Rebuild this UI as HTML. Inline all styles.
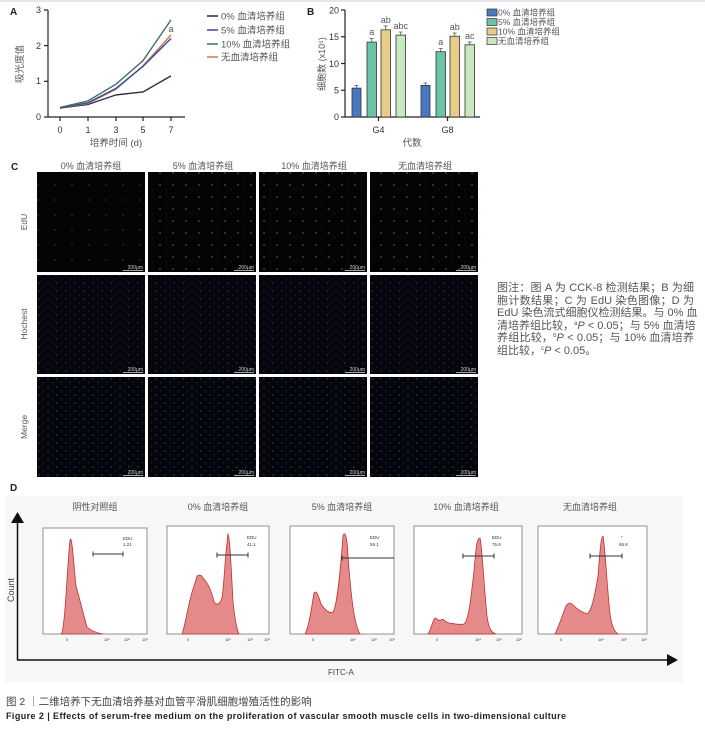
<!DOCTYPE html>
<html><head><meta charset="utf-8">
<style>
html,body{margin:0;padding:0;background:#fff;}
body{width:705px;height:729px;overflow:hidden;position:relative;font-family:"Liberation Sans","Noto Sans CJK SC",sans-serif;}
svg text{font-family:"Liberation Sans","Noto Sans CJK SC",sans-serif;}
.cap{position:absolute;left:497px;top:282px;width:197px;font-size:11px;color:#555;}
.cap div{height:12.6px;line-height:12.6px;text-align:justify;text-align-last:justify;white-space:nowrap;}
.cap sup{font-size:6px;line-height:0;vertical-align:4px;}
</style></head><body>
<svg width="705" height="729" viewBox="0 0 705 729" xmlns="http://www.w3.org/2000/svg" style="position:absolute;left:0;top:0">
<defs>
<pattern id="pg" width="17" height="15" patternUnits="userSpaceOnUse"><rect width="17" height="15" fill="#040405"/><circle cx="4" cy="5" r="0.6" fill="#3a6a50"/></pattern>
<pattern id="pg2" width="13" height="12" patternUnits="userSpaceOnUse"><rect width="13" height="12" fill="#040405"/><circle cx="4" cy="5" r="0.7" fill="#4a8a66"/><circle cx="10" cy="10" r="0.5" fill="#2a4a38"/></pattern>
<pattern id="pb" width="9" height="8" patternUnits="userSpaceOnUse"><rect width="9" height="8" fill="#05050c"/><circle cx="3" cy="3" r="0.7" fill="#34388a"/><circle cx="7.5" cy="6.5" r="0.5" fill="#262a68"/></pattern>
<pattern id="pm" width="9" height="8" patternUnits="userSpaceOnUse"><rect width="9" height="8" fill="#05050c"/><circle cx="3" cy="3" r="0.7" fill="#35428a"/><circle cx="7.5" cy="6.5" r="0.5" fill="#305a60"/></pattern>
</defs>
<line x1="0" y1="1" x2="705" y2="1" stroke="#ccc"/>
<!-- Panel A -->
<text x="10" y="15" font-size="10" font-weight="bold" fill="#222">A</text>
<g stroke="#222" stroke-width="1.2" fill="none">
<line x1="48" y1="10" x2="48" y2="117"/><line x1="48" y1="117" x2="185" y2="117"/>
<line x1="44" y1="117" x2="48" y2="117"/><line x1="44" y1="81.3" x2="48" y2="81.3"/><line x1="44" y1="45.6" x2="48" y2="45.6"/><line x1="44" y1="10" x2="48" y2="10"/>
<line x1="60" y1="117" x2="60" y2="121"/><line x1="88" y1="117" x2="88" y2="121"/><line x1="116" y1="117" x2="116" y2="121"/><line x1="143" y1="117" x2="143" y2="121"/><line x1="171" y1="117" x2="171" y2="121"/>
</g>
<g font-size="9" fill="#333" text-anchor="end"><text x="41" y="120">0</text><text x="41" y="84">1</text><text x="41" y="49">2</text><text x="41" y="13">3</text></g>
<g font-size="9" fill="#333" text-anchor="middle"><text x="60" y="133">0</text><text x="88" y="133">1</text><text x="116" y="133">3</text><text x="143" y="133">5</text><text x="171" y="133">7</text>
<text x="116" y="146" font-size="9.5" fill="#555">培养时间 (d)</text></g>
<text transform="translate(23,64) rotate(-90)" font-size="9.5" fill="#555" text-anchor="middle">吸光度值</text>
<g fill="none" stroke-width="1.4">
<polyline stroke="#2b2b40" points="60,108.1 88,104.5 116,94.9 143,92 171,75.9"/>
<polyline stroke="#c87a4a" points="60,108.1 88,103.4 116,89.2 143,66 171,34.9"/>
<polyline stroke="#3a4a9a" points="60,108.1 88,102.7 116,88.4 143,66.3 171,38.5"/>
<polyline stroke="#3f6f6a" points="60,107.4 88,100.9 116,84.2 143,60.6 171,19.9"/>
</g>
<text x="171" y="32" font-size="9" fill="#555" text-anchor="middle">a</text>
<g stroke-width="1.5"><line x1="207" y1="16" x2="218" y2="16" stroke="#2b2b40"/><line x1="207" y1="30" x2="218" y2="30" stroke="#3a4a9a"/><line x1="207" y1="44" x2="218" y2="44" stroke="#3f6f6a"/><line x1="207" y1="57" x2="218" y2="57" stroke="#c87a4a"/></g>
<g font-size="9.5" fill="#555"><text x="221" y="19.5">0% 血清培养组</text><text x="221" y="33.5">5% 血清培养组</text><text x="221" y="47.5">10% 血清培养组</text><text x="221" y="60.5">无血清培养组</text></g>
<!-- Panel B -->
<text x="307" y="15" font-size="10" font-weight="bold" fill="#222">B</text>
<g stroke="#222" stroke-width="1.2"><line x1="345" y1="10" x2="345" y2="117"/><line x1="345" y1="117" x2="480" y2="117"/>
<line x1="341" y1="117" x2="345" y2="117"/><line x1="341" y1="90.25" x2="345" y2="90.25"/><line x1="341" y1="63.5" x2="345" y2="63.5"/><line x1="341" y1="36.75" x2="345" y2="36.75"/><line x1="341" y1="10" x2="345" y2="10"/>
<line x1="378.5" y1="117" x2="378.5" y2="121"/><line x1="447.5" y1="117" x2="447.5" y2="121"/></g>
<g font-size="9" fill="#333" text-anchor="end"><text x="339" y="120">0</text><text x="339" y="93.5">5</text><text x="339" y="67">10</text><text x="339" y="40">15</text><text x="339" y="13.5">20</text></g>
<g font-size="9" fill="#333" text-anchor="middle"><text x="378.5" y="133">G4</text><text x="447.5" y="133">G8</text><text x="412" y="146" font-size="9.5" fill="#555">代数</text></g>
<text transform="translate(325,64) rotate(-90)" font-size="9" fill="#555" text-anchor="middle">细胞数 (x10⁵)</text>
<g stroke="#333" stroke-width="0.8">
<rect x="352" y="88.1" width="9" height="28.9" fill="#4a78c0"/>
<rect x="367" y="42.1" width="9.5" height="74.9" fill="#6cc4a8"/>
<rect x="381" y="29.8" width="9.5" height="87.2" fill="#e8cc8a"/>
<rect x="396" y="35.1" width="9.5" height="81.9" fill="#c8e8c0"/>
<rect x="421" y="85.4" width="9" height="31.6" fill="#4a78c0"/>
<rect x="436" y="51.7" width="9.5" height="65.3" fill="#6cc4a8"/>
<rect x="450" y="36.2" width="9.5" height="80.8" fill="#e8cc8a"/>
<rect x="465" y="44.8" width="9.5" height="72.2" fill="#c8e8c0"/>
</g>
<g stroke="#555" stroke-width="0.8"><path d="M356.5 88V85.5M354.5 85.5h4M371.7 42V38.5M369.7 38.5h4M385.7 29.8V26M383.7 26h4M400.7 35V32M398.7 32h4M425.5 85.4V83M423.5 83h4M440.7 51.7V48.5M438.7 48.5h4M454.7 36.2V33M452.7 33h4M469.7 44.8V42M467.7 42h4"/></g>
<g font-size="9" fill="#555" text-anchor="middle"><text x="371.7" y="35">a</text><text x="385.7" y="23">ab</text><text x="400.7" y="29">abc</text><text x="440.7" y="45">a</text><text x="454.7" y="30">ab</text><text x="469.7" y="39">ac</text></g>
<g stroke="#333" stroke-width="0.7"><rect x="487" y="9" width="10" height="7" fill="#4a78c0"/><rect x="487" y="18.5" width="10" height="7" fill="#6cc4a8"/><rect x="487" y="28" width="10" height="7" fill="#e8cc8a"/><rect x="487" y="37.5" width="10" height="7" fill="#c8e8c0"/></g>
<g font-size="8.5" fill="#555"><text x="498" y="15.5">0% 血清培养组</text><text x="498" y="25">5% 血清培养组</text><text x="498" y="34.5">10% 血清培养组</text><text x="498" y="44">无血清培养组</text></g>
<!-- Panel C -->
<text x="11" y="170" font-size="10" font-weight="bold" fill="#222">C</text>
<g font-size="9" fill="#555" text-anchor="middle"><text x="91" y="169">0% 血清培养组</text><text x="203" y="169">5% 血清培养组</text><text x="314" y="169">10% 血清培养组</text><text x="425" y="169">无血清培养组</text></g>
<g font-size="8.5" fill="#555" text-anchor="middle"><text transform="translate(27,222) rotate(-90)">EdU</text><text transform="translate(27,324) rotate(-90)">Hochest</text><text transform="translate(27,427) rotate(-90)">Merge</text></g>
<rect x="37" y="172" width="108" height="100" fill="url(#pg)"/><rect x="148" y="172" width="108" height="100" fill="url(#pg2)"/><rect x="259" y="172" width="108" height="100" fill="url(#pg2)"/><rect x="370" y="172" width="108" height="100" fill="url(#pg2)"/>
<rect x="37" y="275" width="108" height="99" fill="url(#pb)"/><rect x="148" y="275" width="108" height="99" fill="url(#pb)"/><rect x="259" y="275" width="108" height="99" fill="url(#pb)"/><rect x="370" y="275" width="108" height="99" fill="url(#pb)"/>
<rect x="37" y="377" width="108" height="100" fill="url(#pm)"/><rect x="148" y="377" width="108" height="100" fill="url(#pm)"/><rect x="259" y="377" width="108" height="100" fill="url(#pm)"/><rect x="370" y="377" width="108" height="100" fill="url(#pm)"/>
<g font-size="5" fill="#ccc" text-anchor="end">
<text x="143" y="269">200μm</text><text x="254" y="269">200μm</text><text x="365" y="269">200μm</text><text x="476" y="269">200μm</text>
<text x="143" y="371">200μm</text><text x="254" y="371">200μm</text><text x="365" y="371">200μm</text><text x="476" y="371">200μm</text>
<text x="143" y="474">200μm</text><text x="254" y="474">200μm</text><text x="365" y="474">200μm</text><text x="476" y="474">200μm</text></g>
<g stroke="#ddd" stroke-width="0.7"><line x1="123" y1="270.5" x2="143" y2="270.5"/><line x1="234" y1="270.5" x2="254" y2="270.5"/><line x1="345" y1="270.5" x2="365" y2="270.5"/><line x1="456" y1="270.5" x2="476" y2="270.5"/>
<line x1="123" y1="372.5" x2="143" y2="372.5"/><line x1="234" y1="372.5" x2="254" y2="372.5"/><line x1="345" y1="372.5" x2="365" y2="372.5"/><line x1="456" y1="372.5" x2="476" y2="372.5"/>
<line x1="123" y1="475.5" x2="143" y2="475.5"/><line x1="234" y1="475.5" x2="254" y2="475.5"/><line x1="345" y1="475.5" x2="365" y2="475.5"/><line x1="456" y1="475.5" x2="476" y2="475.5"/></g>
<!-- Panel D -->
<rect x="5" y="496" width="678" height="186" fill="#f7f7f7"/>
<text x="10" y="491" font-size="10" font-weight="bold" fill="#222">D</text>
<g font-size="9" fill="#555" text-anchor="middle"><text x="95" y="510">阴性对照组</text><text x="218" y="510">0% 血清培养组</text><text x="342" y="510">5% 血清培养组</text><text x="466" y="510">10% 血清培养组</text><text x="590" y="510">无血清培养组</text></g>
<line x1="17.5" y1="520" x2="17.5" y2="660" stroke="#111" stroke-width="1.5"/>
<polygon points="17.5,512 11,523 24,523" fill="#111"/>
<line x1="17" y1="660" x2="670" y2="660" stroke="#111" stroke-width="1.5"/>
<polygon points="678,660 667,654 667,666" fill="#111"/>
<text transform="translate(14,590) rotate(-90)" font-size="9" fill="#444" text-anchor="middle">Count</text>
<text x="328" y="675" font-size="8" fill="#444">FITC-A</text>
<g transform="translate(43,528)">
<rect width="104" height="106" fill="#fff" stroke="#777" stroke-width="0.8"/>
<path d="M18,106 C22,104 24,40 27,12 C29,5 31,40 33,58 C36,68 40,85 44,99 C48,103 54,105 60,106 Z" fill="#e48a8a" stroke="#c03030" stroke-width="0.8"/>
<line x1="50" y1="26" x2="80" y2="26" stroke="#333" stroke-width="1"/><line x1="50" y1="23.5" x2="50" y2="28.5" stroke="#333"/><line x1="80" y1="23.5" x2="80" y2="28.5" stroke="#333"/>
<text x="80" y="12" font-size="4.5" fill="#333">EDU</text><text x="80" y="18" font-size="4.5" fill="#333">1.21</text>
</g>
<g transform="translate(167,526)">
<rect width="102" height="108" fill="#fff" stroke="#777" stroke-width="0.8"/>
<path d="M15,108 C18,100 20,85 24,70 C26,62 28,58 30,50 C32,49 34,48 36,52 C40,56 44,62 47,76 C50,80 53,78 55,72 C57,60 58,30 61,8 C63,12 64,40 66,75 C68,95 70,104 72,108 Z" fill="#e48a8a" stroke="#c03030" stroke-width="0.8"/>
<line x1="50" y1="29" x2="81" y2="29" stroke="#333" stroke-width="1"/><line x1="50" y1="26.5" x2="50" y2="31.5" stroke="#333"/><line x1="81" y1="26.5" x2="81" y2="31.5" stroke="#333"/>
<text x="80" y="13" font-size="4.5" fill="#333">EDU</text><text x="80" y="20" font-size="4.5" fill="#333">41.1</text>
</g>
<g transform="translate(290,526)">
<rect width="104" height="108" fill="#fff" stroke="#777" stroke-width="0.8"/>
<path d="M15,108 C19,100 21,85 24,67 C26,64 28,68 31,78 C35,84 39,88 43,86 C47,80 50,50 53,10 C55,4 57,10 58,30 C61,70 64,98 70,108 Z" fill="#e48a8a" stroke="#c03030" stroke-width="0.8"/>
<line x1="52" y1="32" x2="104" y2="32" stroke="#333" stroke-width="1"/><line x1="52" y1="29.5" x2="52" y2="34.5" stroke="#333"/>
<text x="80" y="13" font-size="4.5" fill="#333">EDU</text><text x="80" y="20" font-size="4.5" fill="#333">59.1</text>
</g>
<g transform="translate(414,526)">
<rect width="108" height="108" fill="#fff" stroke="#777" stroke-width="0.8"/>
<path d="M14,108 C17,104 18,96 21,92 C23,92 25,96 27,94 C29,92 31,96 35,97 C42,98 46,99 50,98 C55,94 57,70 60,45 C62,20 63,12 66,12 C68,20 70,60 73,90 C75,104 78,107 82,108 Z" fill="#e48a8a" stroke="#c03030" stroke-width="0.8"/>
<line x1="49" y1="30" x2="80" y2="30" stroke="#333" stroke-width="1"/><line x1="49" y1="27.5" x2="49" y2="32.5" stroke="#333"/><line x1="80" y1="27.5" x2="80" y2="32.5" stroke="#333"/>
<text x="78" y="13" font-size="4.5" fill="#333">EDU</text><text x="78" y="20" font-size="4.5" fill="#333">75.6</text>
</g>
<g transform="translate(538,526)">
<rect width="109" height="108" fill="#fff" stroke="#777" stroke-width="0.8"/>
<path d="M17,108 C21,100 24,90 28,80 C30,77 32,76 35,79 C40,84 44,86 49,88 C53,86 56,74 60,50 C62,25 63,10 65,10 C67,20 69,60 72,88 C74,102 77,106 80,108 Z" fill="#e48a8a" stroke="#c03030" stroke-width="0.8"/>
<line x1="52" y1="30" x2="84" y2="30" stroke="#333" stroke-width="1"/><line x1="52" y1="27.5" x2="52" y2="32.5" stroke="#333"/><line x1="84" y1="27.5" x2="84" y2="32.5" stroke="#333"/>
<text x="83" y="13" font-size="4.5" fill="#333">*</text><text x="81" y="20" font-size="4.5" fill="#333">65.8</text>
</g>
<g font-size="3.8" fill="#333" text-anchor="middle">
<text x="67" y="641">0</text><text x="107" y="641">10⁴</text><text x="127" y="641">10⁵</text><text x="145" y="641">10⁶</text>
<text x="188" y="641">0</text><text x="228" y="641">10⁴</text><text x="250" y="641">10⁵</text><text x="267" y="641">10⁶</text>
<text x="313" y="641">0</text><text x="353" y="641">10⁴</text><text x="374" y="641">10⁵</text><text x="392" y="641">10⁶</text>
<text x="437" y="641">0</text><text x="478" y="641">10⁴</text><text x="499" y="641">10⁵</text><text x="519" y="641">10⁶</text>
<text x="561" y="641">0</text><text x="601" y="641">10⁴</text><text x="624" y="641">10⁵</text><text x="644" y="641">10⁶</text>
</g>
<text x="6" y="705" font-size="10.5" fill="#444">图 2 ｜二维培养下无血清培养基对血管平滑肌细胞增殖活性的影响</text>
<text x="6" y="719" font-size="9" font-weight="bold" fill="#222" textLength="560" lengthAdjust="spacing">Figure 2  |  Effects of serum-free medium on the proliferation of vascular smooth muscle cells in two-dimensional culture</text>
</svg>
<div class="cap">
<div>图注：图 A 为 CCK-8 检测结果；B 为细</div>
<div>胞计数结果；C 为 EdU 染色图像；D 为</div>
<div>EdU 染色流式细胞仪检测结果。与 0% 血</div>
<div>清培养组比较，<sup>a</sup><i>P</i> &lt; 0.05；与 5% 血清培</div>
<div>养组比较，<sup>b</sup><i>P</i> &lt; 0.05；与 10% 血清培养</div>
<div style="text-align-last:left">组比较，<sup>c</sup><i>P</i> &lt; 0.05。</div>
</div>
</body></html>
